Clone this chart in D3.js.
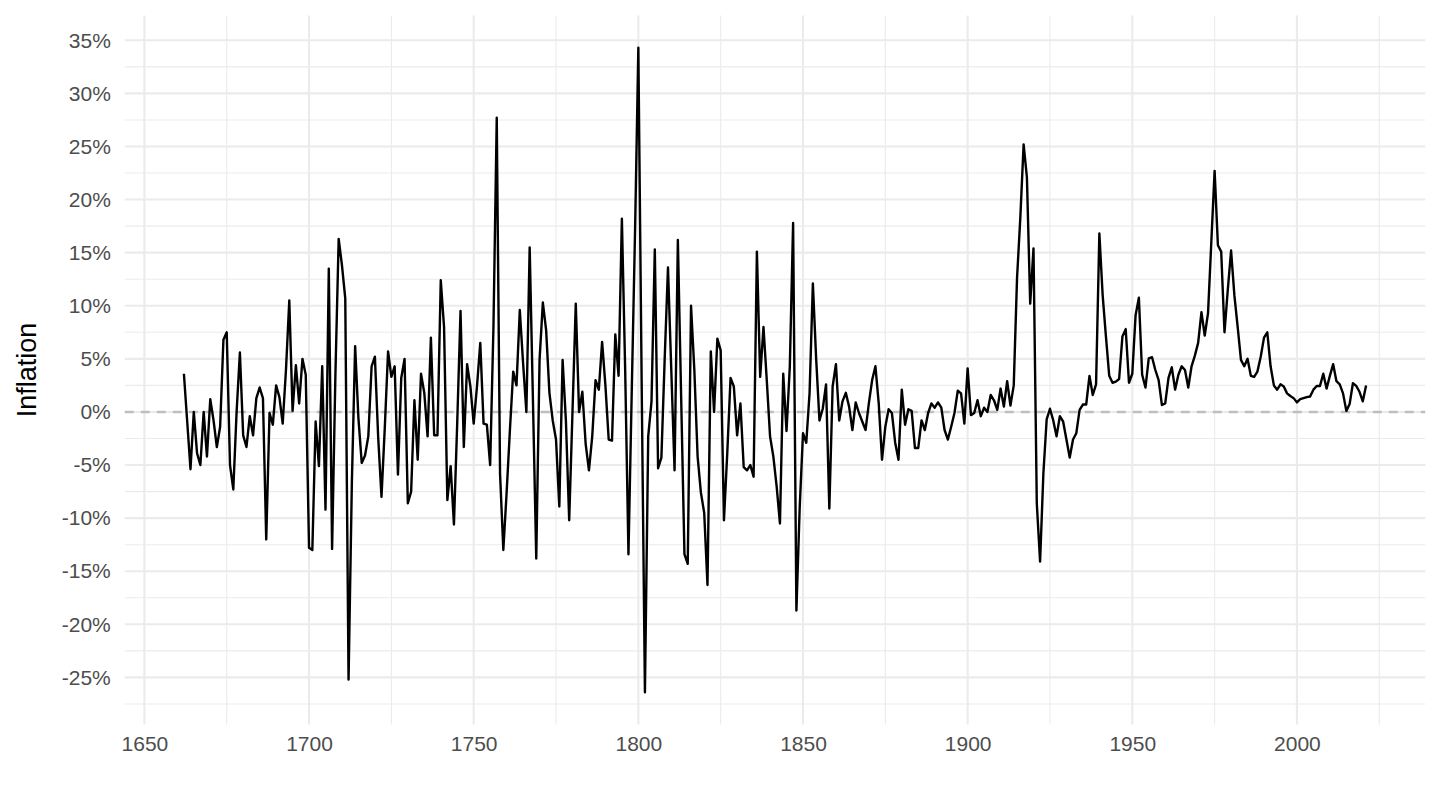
<!DOCTYPE html>
<html>
<head>
<meta charset="utf-8">
<script src="https://cdn.jsdelivr.net/npm/d3@7"></script>
<style>
  html, body { margin: 0; padding: 0; background: #ffffff; }
  svg { display: block; }
  text { font-family: "Liberation Sans", Arial, Helvetica, sans-serif; }
</style>
</head>
<body>
<svg id="chart" width="1440" height="810"></svg>
<script>
// ---- data (annual inflation, %) ----
const firstYear = 1662;
const lastYear = 2021;
const inflation1662_1699 = [3.6,-0.9,-5.4,0.0,-3.9,-5.0,0.0,-4.2,1.2,-0.8,-3.3,-1.4,6.8,7.5,-5.0,-7.3,0.0,5.6,-2.2,-3.3,-0.4,-2.2,1.3,2.3,1.3,-12.0,-0.1,-1.2,2.5,1.4,-1.1,4.0,10.5,0.1,4.4,0.8,5.0,3.5];
const inflation1700_1749 = [-12.8,-13.0,-0.9,-5.1,4.3,-9.2,13.5,-12.9,3.4,16.3,13.8,10.7,-25.2,-6.7,6.2,-0.6,-4.8,-4.1,-2.3,4.3,5.2,-2.4,-8.0,-1.5,5.7,3.3,4.3,-5.9,3.2,5.0,-8.6,-7.5,1.1,-4.5,3.6,1.8,-2.3,7.0,-2.2,-2.2,12.4,8.0,-8.3,-5.1,-10.6,-1.0,9.5,-3.3,4.5,2.4];
const inflation1750_1799 = [-1.1,2.4,6.5,-1.1,-1.2,-5.0,8.0,27.7,-5.8,-13.0,-7.6,-1.7,3.8,2.5,9.6,4.6,0.0,15.5,1.0,-13.8,4.9,10.3,7.7,1.8,-0.8,-2.6,-8.9,4.9,-0.8,-10.2,0.0,10.2,0.0,1.9,-3.0,-5.5,-2.3,3.0,2.1,6.6,2.5,-2.6,-2.7,7.3,3.4,18.2,4.0,-13.4,2.0,17.0];
const inflation1800_1849 = [34.3,3.0,-26.4,-2.3,1.0,15.3,-5.3,-4.3,5.0,13.6,4.0,-5.5,16.2,1.4,-13.4,-14.3,10.0,4.0,-4.2,-7.6,-9.5,-16.3,5.7,0.0,6.9,5.8,-10.2,-3.9,3.2,2.4,-2.2,0.8,-5.2,-5.5,-5.0,-6.1,15.1,3.3,8.0,3.0,-2.3,-4.2,-7.0,-10.5,3.6,-1.8,4.3,17.8,-18.7,-9.0];
const inflation1850_1899 = [-2.0,-2.9,1.8,12.1,5.0,-0.8,0.3,2.6,-9.1,2.4,4.5,-0.8,1.0,1.8,0.5,-1.7,0.9,-0.1,-0.9,-1.7,0.8,3.0,4.3,0.8,-4.5,-1.4,0.25,-0.1,-2.9,-4.5,2.1,-1.2,0.25,0.1,-3.4,-3.4,-0.8,-1.7,-0.1,0.8,0.4,0.9,0.4,-1.7,-2.6,-1.4,-0.1,2.0,1.75,-1.1];
const inflation1900_1949 = [4.1,-0.3,-0.1,1.1,-0.4,0.4,0.0,1.6,1.1,0.2,2.2,0.5,2.9,0.6,2.5,12.6,18.3,25.2,22.1,10.2,15.4,-8.6,-14.1,-5.8,-0.7,0.3,-0.8,-2.3,-0.4,-0.9,-2.6,-4.3,-2.6,-2.0,0.2,0.7,0.7,3.4,1.6,2.6,16.8,11.0,7.1,3.4,2.75,2.85,3.1,7.1,7.8,2.75];
const inflation1950_1999 = [3.6,9.1,10.75,3.5,2.3,5.05,5.15,3.95,3.0,0.65,0.8,3.2,4.2,2.1,3.5,4.3,3.95,2.3,4.3,5.3,6.5,9.4,7.2,9.3,16.0,22.7,15.7,15.1,7.5,11.5,15.2,11.0,8.0,4.9,4.3,5.0,3.4,3.3,3.8,5.2,7.0,7.5,4.3,2.5,2.1,2.6,2.4,1.75,1.5,1.3];
const inflation2000_2021 = [0.9,1.2,1.3,1.4,1.45,2.1,2.45,2.45,3.6,2.2,3.4,4.5,2.9,2.6,1.75,0.1,0.75,2.7,2.45,1.9,1.0,2.5];

const xTickYears = [1650,1700,1750,1800,1850,1900,1950,2000];
const xMinorYears = [1675,1725,1775,1825,1875,1925,1975,2025];
const yTickValues = [-25,-20,-15,-10,-5,0,5,10,15,20,25,30,35];
const yMinorValues = [-27.5,-22.5,-17.5,-12.5,-7.5,-2.5,2.5,7.5,12.5,17.5,22.5,27.5,32.5];
const yTitle = "Inflation";

const values = [].concat(inflation1662_1699, inflation1700_1749, inflation1750_1799,
  inflation1800_1849, inflation1850_1899, inflation1900_1949, inflation1950_1999, inflation2000_2021);
const years = d3.range(firstYear, lastYear + 1);
const data = years.map((yr, i) => ({year: yr, value: values[i]}));

// ---- layout ----
const svg = d3.select("#chart");
const panel = {left: 124.8, right: 1425.2, top: 15.5, bottom: 724.5};

const xExt = d3.extent(years);
const xPad = (xExt[1] - xExt[0]) * 0.05;
const x = d3.scaleLinear().domain([xExt[0] - xPad, xExt[1] + xPad]).range([panel.left, panel.right]);
const yExt = d3.extent(values);
const yPad = (yExt[1] - yExt[0]) * 0.05;
const y = d3.scaleLinear().domain([yExt[0] - yPad, yExt[1] + yPad]).range([panel.bottom, panel.top]);

const gridColor = "#EBEBEB";
const grid = svg.append("g");
// minor grid
grid.selectAll("line.ymin").data(yMinorValues.filter(v => v >= y.domain()[0] && v <= y.domain()[1]))
  .enter().append("line")
  .attr("x1", panel.left).attr("x2", panel.right)
  .attr("y1", d => y(d)).attr("y2", d => y(d))
  .attr("stroke", gridColor).attr("stroke-width", 1.1);
grid.selectAll("line.xmin").data(xMinorYears.filter(v => v >= x.domain()[0] && v <= x.domain()[1]))
  .enter().append("line")
  .attr("y1", panel.top).attr("y2", panel.bottom)
  .attr("x1", d => x(d)).attr("x2", d => x(d))
  .attr("stroke", gridColor).attr("stroke-width", 1.1);
// major grid
grid.selectAll("line.ymaj").data(yTickValues)
  .enter().append("line")
  .attr("x1", panel.left).attr("x2", panel.right)
  .attr("y1", d => y(d)).attr("y2", d => y(d))
  .attr("stroke", gridColor).attr("stroke-width", 2.1);
grid.selectAll("line.xmaj").data(xTickYears)
  .enter().append("line")
  .attr("y1", panel.top).attr("y2", panel.bottom)
  .attr("x1", d => x(d)).attr("x2", d => x(d))
  .attr("stroke", gridColor).attr("stroke-width", 2.1);

// zero reference line
svg.append("line")
  .attr("x1", panel.left).attr("x2", panel.right)
  .attr("y1", y(0)).attr("y2", y(0))
  .attr("stroke", "#BEBEBE").attr("stroke-width", 2.4)
  .attr("stroke-dasharray", "9,7");

// data line
const line = d3.line().x(d => x(d.year)).y(d => y(d.value));
svg.append("path").datum(data)
  .attr("d", line)
  .attr("fill", "none")
  .attr("stroke", "#000000")
  .attr("stroke-width", 2.4)
  .attr("stroke-linejoin", "round");

// axes (text only, like theme_minimal)
const xAxis = svg.append("g")
  .attr("transform", `translate(0,${panel.bottom + 6})`)
  .call(d3.axisBottom(x).tickValues(xTickYears).tickFormat(d3.format("d")).tickSize(0).tickPadding(6));
xAxis.select(".domain").remove();
xAxis.selectAll("text").attr("fill", "#4D4D4D").style("font-size", "21px");

const yAxis = svg.append("g")
  .attr("transform", `translate(${panel.left - 5},0)`)
  .call(d3.axisLeft(y).tickValues(yTickValues).tickFormat(d => d + "%").tickSize(0).tickPadding(9));
yAxis.select(".domain").remove();
yAxis.selectAll("text").attr("fill", "#4D4D4D").style("font-size", "21px");

svg.append("text")
  .attr("transform", `translate(36,${(panel.top + panel.bottom) / 2}) rotate(-90)`)
  .attr("text-anchor", "middle")
  .attr("fill", "#000000")
  .style("font-size", "27px")
  .text(yTitle);
</script>
</body>
</html>
